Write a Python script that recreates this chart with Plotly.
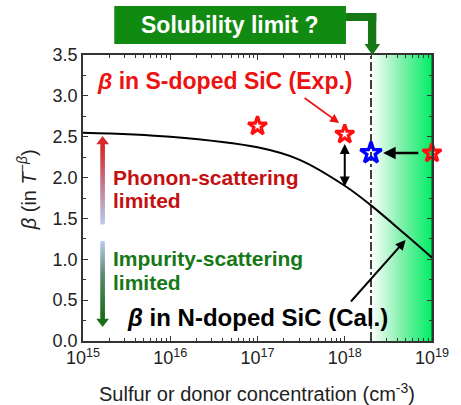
import numpy as np
import plotly.graph_objects as go

# ---- data ----
calc_x = [1e15, 1e16, 1e17, 3e17, 1e18, 2e18, 5e18, 1e19]
calc_beta = [2.55, 2.50, 2.37, 2.22, 1.90, 1.66, 1.30, 1.02]
exp_x = [1e17, 1e18, 1e19]
exp_beta = [2.63, 2.53, 2.30]
corr_x = [2e18]
corr_beta = [2.30]
sol_limit = 2e18
x_max = 1e19
x_ticks = [1e15, 1e16, 1e17, 1e18, 1e19]
x_ticktext = ["10<sup>15</sup>", "10<sup>16</sup>", "10<sup>17</sup>", "10<sup>18</sup>", "10<sup>19</sup>"]
y_ticks = [0.0, 0.5, 1.0, 1.5, 2.0, 2.5, 3.0, 3.5]

W, H = 461, 405
ML, MR, MT, MB = 83, 21, 55, 64
PW, PH = W - ML - MR, H - MT - MB


def px(xp):
    return (xp - ML) / PW


def py(yp):
    return (H - MB - yp) / PH


FONT = "Liberation Sans, Arial, sans-serif"
fig = go.Figure()

# green gradient region beyond solubility limit
fig.add_trace(go.Scatter(
    x=[sol_limit, x_max, x_max, sol_limit, sol_limit], y=[0, 0, 3.5, 3.5, 0],
    mode="lines", line=dict(width=0), fill="toself",
    fillgradient=dict(type="horizontal", colorscale=[[0, "rgba(255,255,255,1)"], [0.5, "rgb(128,240,170)"], [1, "rgb(0,238,102)"]]),
    hoverinfo="skip", showlegend=False))
fig.add_trace(go.Scatter(x=[x_max, x_max], y=[0, 3.5], mode="lines",
                         line=dict(color="#0a9a3a", width=2), showlegend=False, hoverinfo="skip"))

# dash-dot solubility limit
fig.add_trace(go.Scatter(x=[sol_limit, sol_limit], y=[0, 3.5], mode="lines",
                         line=dict(color="black", width=1.5, dash="dashdot"), showlegend=False))

# calculated curve
fig.add_trace(go.Scatter(x=calc_x, y=calc_beta, mode="lines",
                         line=dict(color="black", width=2, shape="spline", smoothing=1.0),
                         showlegend=False))

# gradient arrows on the left (decoration)
ax_x = 10 ** 15.225
n = 60
t = np.linspace(0, 1, n)
fig.add_trace(go.Scatter(x=[ax_x] * n, y=list(1.45 + (2.40 - 1.45) * t), mode="markers",
                         marker=dict(symbol="square", size=4, color=list(t),
                                     colorscale=[[0, "#b8cbee"], [1, "#d42a2a"]], line=dict(width=0)),
                         showlegend=False, hoverinfo="skip", cliponaxis=False))
fig.add_trace(go.Scatter(x=[ax_x], y=[2.44], mode="markers",
                         marker=dict(symbol="triangle-up", size=11, color="#d42a2a", line=dict(width=0)),
                         showlegend=False, hoverinfo="skip"))
fig.add_trace(go.Scatter(x=[ax_x] * n, y=list(1.20 - (1.20 - 0.28) * t), mode="markers",
                         marker=dict(symbol="square", size=4, color=list(t),
                                     colorscale=[[0, "#b8cbee"], [0.45, "#5a8a6a"], [1, "#1a6e1a"]], line=dict(width=0)),
                         showlegend=False, hoverinfo="skip"))
fig.add_trace(go.Scatter(x=[ax_x], y=[0.24], mode="markers",
                         marker=dict(symbol="triangle-down", size=11, color="#1a6e1a", line=dict(width=0)),
                         showlegend=False, hoverinfo="skip"))

# stars
fig.add_trace(go.Scatter(x=exp_x, y=exp_beta, mode="markers", cliponaxis=False,
                         marker=dict(symbol="star-open", size=14, color="#ff1010", line=dict(width=3.2, color="#ff1010")),
                         showlegend=False))
fig.add_trace(go.Scatter(x=corr_x, y=corr_beta, mode="markers", cliponaxis=False,
                         marker=dict(symbol="star-open", size=16, color="#0000ff", line=dict(width=3.2, color="#0000ff")),
                         showlegend=False))

ann = []
# texts
ann.append(dict(xref="paper", yref="paper", x=px(228), y=py(81), text="<b><i>β</i> in S-doped SiC (Exp.)</b>",
                showarrow=False, font=dict(family=FONT, size=23, color="#ee1111"), xanchor="center", yanchor="middle"))
for txt, yy, col in [("Phonon-scattering", 177, "#c41010"), ("limited", 201, "#c41010"),
                     ("Impurity-scattering", 258, "#167816"), ("limited", 282, "#167816")]:
    ann.append(dict(xref="paper", yref="paper", x=px(112), y=py(yy), text=f"<b>{txt}</b>",
                    showarrow=False, font=dict(family=FONT, size=21, color=col),
                    xanchor="left", yanchor="middle"))
ann.append(dict(xref="paper", yref="paper", x=px(261), y=py(317), text="<b><i>β</i> in N-doped SiC (Cal.)</b>",
                showarrow=False, font=dict(family=FONT, size=24, color="black"), xanchor="center", yanchor="middle"))

# arrows
ann.append(dict(xref="paper", yref="paper", x=px(345), y=py(123), ax=-36, ay=-26,
                text="", showarrow=True, arrowhead=2, arrowsize=1, arrowwidth=1.8, arrowcolor="#ee1111"))
ann.append(dict(xref="x", yref="y", x=18, y=1.89, ax=0, ay=-44, text="", showarrow=True,
                arrowhead=2, arrowside="end+start", arrowsize=1, arrowwidth=2, arrowcolor="black"))
ann.append(dict(xref="x", yref="y", x=18.44, y=2.30, axref="x", ayref="y", ax=18.86, ay=2.30, text="",
                showarrow=True, arrowhead=2, arrowsize=1, arrowwidth=2.5, arrowcolor="black"))
ann.append(dict(xref="paper", yref="paper", x=px(413), y=py(240), ax=-56, ay=63, text="",
                showarrow=True, arrowhead=2, arrowsize=1, arrowwidth=2, arrowcolor="black"))

# solubility box
ann.append(dict(xref="paper", yref="paper", x=px(233.5), y=py(25), text="<b>Solubility limit ?</b>",
                showarrow=False, font=dict(family=FONT, size=23, color="white"), xanchor="center", yanchor="middle"))

# axis titles
ann.append(dict(xref="paper", yref="paper", x=px(261), y=py(392), text="Sulfur or donor concentration (cm<sup>-3</sup>)",
                showarrow=False, font=dict(family=FONT, size=20, color="#222"), xanchor="center", yanchor="middle"))
ann.append(dict(xref="paper", yref="paper", x=px(26), y=py(190), text="<i>β</i> (in <i>T</i><sup>−<i>β</i></sup>)",
                showarrow=False, textangle=-90, font=dict(family=FONT, size=20, color="#222"),
                xanchor="center", yanchor="middle"))

shapes = []
shapes.append(dict(type="rect", xref="paper", yref="paper", x0=px(115), x1=px(352), y0=py(44), y1=py(6),
                   fillcolor="#118a11", line=dict(width=0), layer="above"))
GC = "#157a15"
shapes.append(dict(type="rect", xref="paper", yref="paper", x0=px(352), x1=px(383), y0=py(21), y1=py(13),
                   fillcolor=GC, line=dict(width=0), layer="above"))
shapes.append(dict(type="rect", xref="paper", yref="paper", x0=px(374.5), x1=px(383), y0=py(45), y1=py(13),
                   fillcolor=GC, line=dict(width=0), layer="above"))
shapes.append(dict(type="path", xref="paper", yref="paper",
                   path=f"M {px(371)} {py(44)} L {px(387)} {py(44)} L {px(379)} {py(55)} Z",
                   fillcolor=GC, line=dict(width=0), layer="above"))

minor_x = [m * 10 ** e for e in range(15, 19) for m in range(2, 10)]
fig.update_layout(
    width=W, height=H, margin=dict(l=ML, r=MR, t=MT, b=MB),
    paper_bgcolor="white", plot_bgcolor="white",
    annotations=ann, shapes=shapes,
    font=dict(family=FONT, size=17, color="#222"),
    xaxis=dict(type="log", range=[15, 19], tickvals=x_ticks, ticktext=x_ticktext,
               ticks="inside", ticklen=5, tickwidth=1, tickcolor="#333", showgrid=False, zeroline=False,
               showline=True, linecolor="#333", linewidth=1.5, mirror="ticks",
               minor=dict(tickvals=minor_x, ticks="inside", ticklen=3, tickcolor="#333", showgrid=False),
               tickfont=dict(family=FONT, size=18, color="#222")),
    yaxis=dict(range=[0, 3.5], tickvals=y_ticks, ticktext=[f"{v:.1f}" for v in y_ticks],
               ticks="inside", ticklen=5, tickcolor="#333", showgrid=False, zeroline=False,
               showline=True, linecolor="#333", linewidth=1.5, mirror="ticks",
               minor=dict(dtick=0.25, ticks="inside", ticklen=3, tickcolor="#333", showgrid=False),
               tickfont=dict(family=FONT, size=18, color="#222")),
)

fig.write_html("out.html")
